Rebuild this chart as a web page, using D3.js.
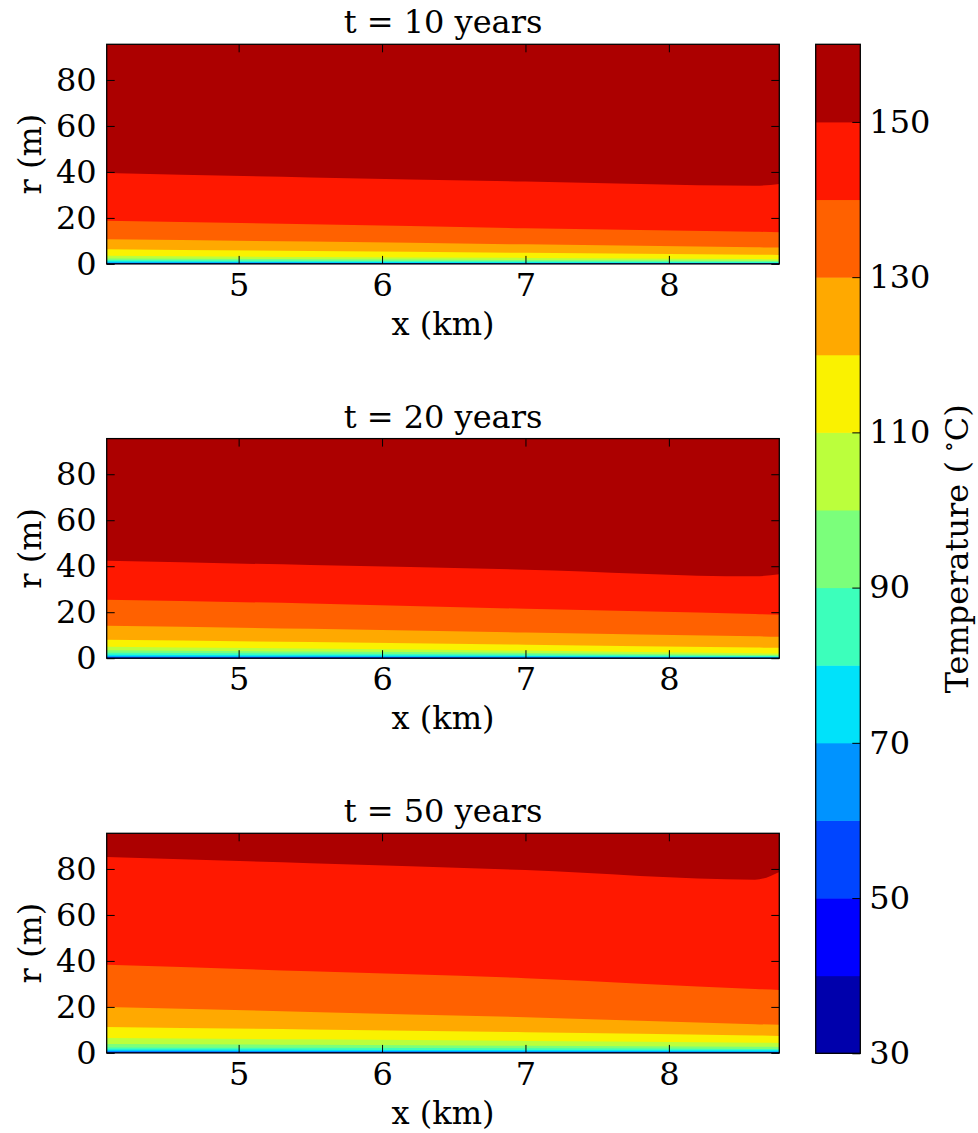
<!DOCTYPE html>
<html><head><meta charset="utf-8">
<script src="https://cdn.jsdelivr.net/npm/d3@7"></script>
<style>body{margin:0;background:#fff}svg{display:block}text{font-family:"DejaVu Serif",serif;fill:#000}</style>
</head><body><svg id="c" width="978" height="1133"></svg>
<script>
// ---------------- data ----------------
const titles = ["t = 10 years", "t = 20 years", "t = 50 years"];
const levels = [30, 40, 50, 60, 70, 80, 90, 100, 110, 120, 130, 140, 150, 160];
const xDomain = [4.08, 8.77];
const rMax = 95.5;
const xSamples = [4.08, 5.5, 7, 8.6, 8.77];
const xTicks = [5, 6, 7, 8];
const rTicks = [0, 20, 40, 60, 80];
const cbarTicks = [30, 50, 70, 90, 110, 130, 150];
// contour boundary heights r (m) at xSamples, rows = levels 40,50,...,150
const t10 = [
  [0.05, 0.04, 0.03, 0.02, 0.02],
  [0.15, 0.12, 0.10, 0.07, 0.07],
  [0.35, 0.29, 0.22, 0.15, 0.15],
  [0.65, 0.55, 0.42, 0.30, 0.30],
  [1.1, 0.9, 0.72, 0.52, 0.5],
  [1.7, 1.4, 1.15, 0.9, 0.87],
  [2.4, 2.0, 1.7, 1.35, 1.3],
  [3.5, 3.0, 2.6, 2.1, 2.0],
  [6.4, 5.6, 4.8, 4.0, 3.9],
  [10.7, 9.7, 8.5, 7.2, 7.1],
  [18.8, 17.2, 15.5, 14.0, 13.8],
  [39.5, 37.6, 35.8, 34.0, 34.8]
];
const t20 = [
  [0.05, 0.04, 0.03, 0.02, 0.02],
  [0.2, 0.17, 0.13, 0.07, 0.07],
  [0.45, 0.38, 0.30, 0.16, 0.15],
  [0.9, 0.75, 0.6, 0.32, 0.3],
  [1.5, 1.25, 1.0, 0.6, 0.55],
  [2.4, 2.0, 1.6, 0.95, 0.9],
  [3.5, 2.9, 2.3, 1.4, 1.3],
  [5.0, 4.2, 3.3, 2.1, 2.0],
  [8.0, 7.0, 5.9, 4.6, 4.5],
  [14.1, 12.8, 11.2, 9.5, 9.3],
  [25.4, 23.8, 21.5, 19.2, 18.9],
  [42.4, 40.5, 38.5, 35.6, 36.5]
];
const t50 = [
  [0.05, 0.05, 0.04, 0.04, 0.04],
  [0.2, 0.19, 0.17, 0.15, 0.15],
  [0.45, 0.42, 0.40, 0.36, 0.35],
  [0.9, 0.82, 0.75, 0.66, 0.65],
  [1.5, 1.4, 1.25, 1.1, 1.1],
  [2.4, 2.2, 2.0, 1.75, 1.7],
  [3.9, 3.5, 3.1, 2.65, 2.6],
  [6.5, 5.9, 5.2, 4.4, 4.3],
  [11.3, 10.2, 9.0, 7.6, 7.4],
  [20.0, 17.8, 15.5, 12.5, 12.2],
  [38.3, 35.5, 32.5, 27.8, 27.4],
  [85.2, 82.5, 79.5, 75.3, 78.7]
];
const panelsData = [t10, t20, t50];

// ---------------- style / layout ----------------
const FS = 32;
const left = 106.7, right = 779.3;
const tops = [44.3, 438.6, 833.3];
const ph = 219.6;
const cb = {x0: 815.7, x1: 860.3, top: 44.3, bottom: 1053.3};

// jet colormap (matplotlib segment data)
const jetR = [[0,0],[0.35,0],[0.66,1],[0.89,1],[1,0.5]];
const jetG = [[0,0],[0.125,0],[0.375,1],[0.64,1],[0.91,0],[1,0]];
const jetB = [[0,0.5],[0.11,1],[0.34,1],[0.65,0],[1,0]];
function seg(p, t) {
  for (let i = 0; i < p.length - 1; i++) {
    if (t <= p[i+1][0]) { const f = (t - p[i][0]) / (p[i+1][0] - p[i][0]); return p[i][1] + f * (p[i+1][1] - p[i][1]); }
  }
  return p[p.length-1][1];
}
function jet(t) { return d3.rgb(255*seg(jetR,t), 255*seg(jetG,t), 255*seg(jetB,t)).formatHex(); }
const lo = levels[0], hi = levels[levels.length-1];
const bandColors = d3.range(levels.length - 1).map(i => jet(((levels[i] + levels[i+1]) / 2 - lo) / (hi - lo)));

const svg = d3.select("#c");

panelsData.forEach((rows, p) => {
  const top = tops[p], bottom = top + ph;
  const x = d3.scaleLinear().domain(xDomain).range([left, right]);
  const y = d3.scaleLinear().domain([0, rMax]).range([bottom, top]);
  const g = svg.append("g");
  const cid = "clip" + p;
  g.append("clipPath").attr("id", cid).append("rect")
    .attr("x", left).attr("y", top).attr("width", right - left).attr("height", ph);
  const pg = g.append("g").attr("clip-path", `url(#${cid})`);
  pg.append("rect").attr("x", left).attr("y", top).attr("width", right - left).attr("height", ph)
    .attr("fill", bandColors[bandColors.length - 1]);
  const area = d3.area()
    .x((d, i) => x(xSamples[i]))
    .y0(y(0) + 2)
    .y1(d => y(d))
    .curve(d3.curveMonotoneX);
  for (let j = rows.length - 1; j >= 0; j--) {
    pg.append("path").attr("d", area(rows[j])).attr("fill", bandColors[j]);
  }
  const tick = 8;
  const ax = (a) => a.selectAll("line").attr("stroke", "#000").attr("stroke-width", 1);
  g.append("g").attr("transform", `translate(0,${bottom})`)
    .call(d3.axisBottom(x).tickValues(xTicks).tickSize(-tick).tickPadding(9.5).tickFormat(d3.format("d")))
    .call(a => { a.select(".domain").remove(); ax(a); a.selectAll("text").attr("font-size", FS).attr("font-family", "DejaVu Serif"); });
  g.append("g").attr("transform", `translate(0,${top})`)
    .call(d3.axisTop(x).tickValues(xTicks).tickSize(-tick).tickFormat(""))
    .call(a => { a.select(".domain").remove(); ax(a); });
  g.append("g").attr("transform", `translate(${left},0)`)
    .call(d3.axisLeft(y).tickValues(rTicks).tickSize(-tick).tickPadding(10).tickFormat(d3.format("d")))
    .call(a => { a.select(".domain").remove(); ax(a); a.selectAll("text").attr("font-size", FS).attr("font-family", "DejaVu Serif"); });
  g.append("g").attr("transform", `translate(${right},0)`)
    .call(d3.axisRight(y).tickValues(rTicks).tickSize(-tick).tickFormat(""))
    .call(a => { a.select(".domain").remove(); ax(a); });
  g.append("rect").attr("x", left).attr("y", top).attr("width", right - left).attr("height", ph)
    .attr("fill", "none").attr("stroke", "#000").attr("stroke-width", 1.3);
  const cx = (left + right) / 2;
  g.append("text").attr("x", cx).attr("y", top - 11).attr("text-anchor", "middle")
    .attr("font-size", FS).text(titles[p]);
  g.append("text").attr("x", cx).attr("y", bottom + 71).attr("text-anchor", "middle")
    .attr("font-size", FS).text("x (km)");
  g.append("text").attr("transform", `translate(41,${(top + bottom) / 2}) rotate(-90)`)
    .attr("text-anchor", "middle").attr("font-size", FS).text("r (m)");
});

// ---------------- colorbar ----------------
const cy = d3.scaleLinear().domain([lo, hi]).range([cb.bottom, cb.top]);
const cg = svg.append("g");
cg.selectAll("rect.band").data(d3.range(levels.length - 1)).join("rect")
  .attr("class", "band")
  .attr("x", cb.x0).attr("width", cb.x1 - cb.x0)
  .attr("y", i => cy(levels[i+1])).attr("height", i => cy(levels[i]) - cy(levels[i+1]) + 0.5)
  .attr("fill", i => bandColors[i]);
cg.append("g").attr("transform", `translate(${cb.x1},0)`)
  .call(d3.axisRight(cy).tickValues(cbarTicks).tickSize(-8).tickPadding(9).tickFormat(d3.format("d")))
  .call(a => { a.select(".domain").remove(); a.selectAll("line").attr("stroke", "#000");
    a.selectAll("text").attr("font-size", FS).attr("font-family", "DejaVu Serif"); });
cg.append("rect").attr("x", cb.x0).attr("y", cb.top).attr("width", cb.x1 - cb.x0).attr("height", cb.bottom - cb.top)
  .attr("fill", "none").attr("stroke", "#000").attr("stroke-width", 1.3);
const lbl = cg.append("text").attr("transform", `translate(968,${(cb.top + cb.bottom) / 2}) rotate(-90)`)
  .attr("text-anchor", "middle").attr("font-size", FS);
lbl.append("tspan").text("Temperature (");
lbl.append("tspan").attr("dx", 9).attr("font-size", 22).attr("dy", -12).text("∘");
lbl.append("tspan").attr("dy", 12).text("C)");
</script></body></html>
